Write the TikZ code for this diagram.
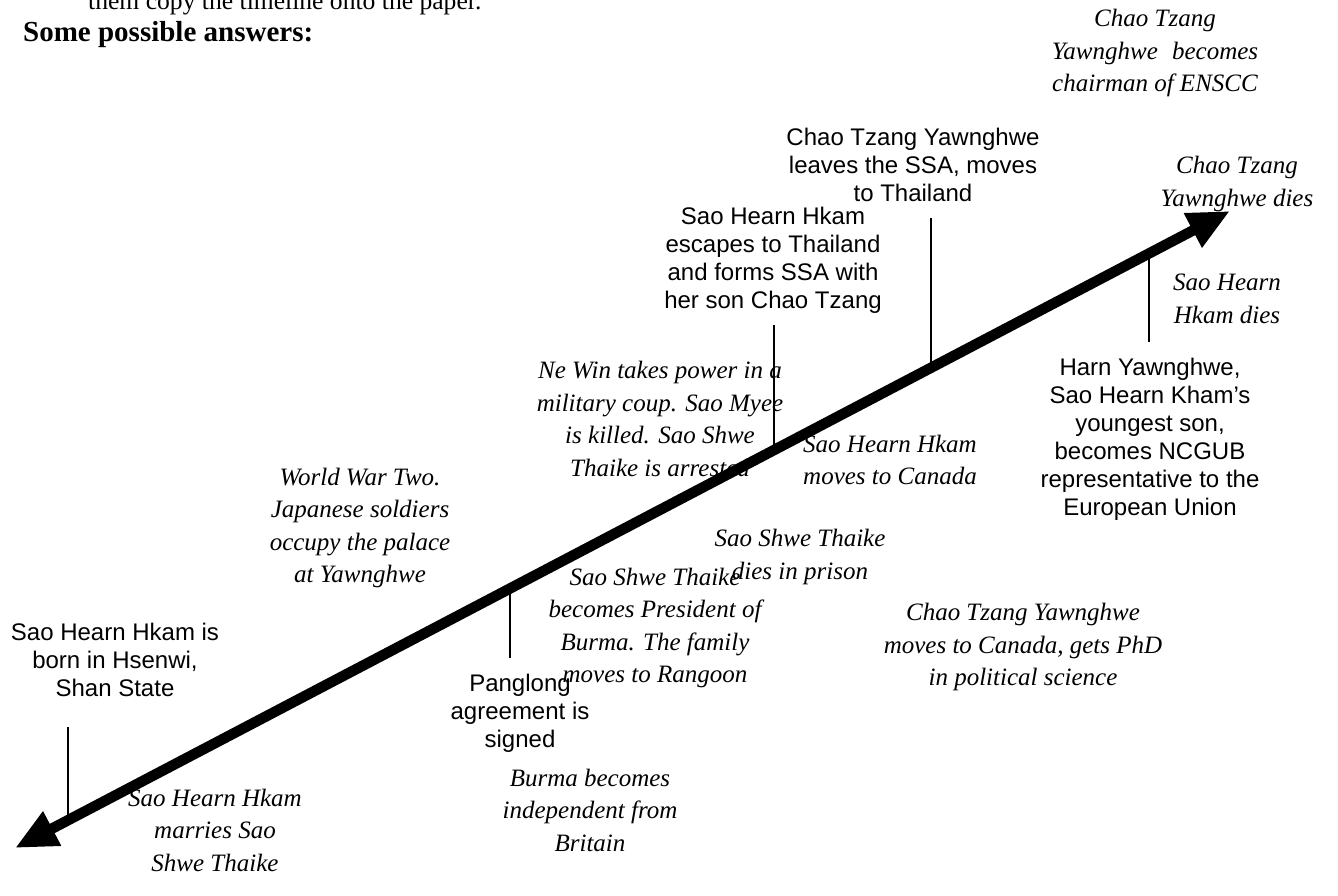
\documentclass[tikz,border=0pt]{standalone}
\usepackage{fontspec}
\setmainfont{Liberation Serif}
\newfontfamily\arialf{Liberation Sans}
\usetikzlibrary{arrows.meta}
\begin{document}
\begin{tikzpicture}[x=1pt,y=-1pt,
  sanslbl/.style={inner sep=0pt, align=center, font=\arialf\fontsize{24}{28}\selectfont},
  itlbl/.style={inner sep=0pt, align=center, font=\fontsize{25}{32.5}\selectfont\itshape},
  tickline/.style={line width=2pt},
  timeline/.style={line width=10.5pt, {Triangle[length=42pt,width=36pt]}-{Triangle[length=42pt,width=36pt]}}]
\useasboundingbox (0,0) rectangle (1338,896);
\clip (0,0) rectangle (1338,896);

% header
\node[anchor=base west, inner sep=0pt, font=\fontsize{25.6}{30}\selectfont] (hdr) at (88,10) {them copy the timeline onto the paper.};
\node[anchor=base west, inner sep=0pt, font=\fontsize{29}{34}\selectfont\bfseries] (title) at (23,42) {Some possible answers:};

% timeline arrow
\coordinate (ll) at (15,848);
\coordinate (ur) at (1230,211);
\draw[timeline] (ll) -- (ur);

% labels
\node[sanslbl] (born) at (115,660) {Sao Hearn Hkam is\\born in Hsenwi,\\Shan State};
\node[itlbl] (marries) at (215,830) {Sao Hearn Hkam\\marries Sao\\Shwe Thaike};
\node[itlbl] (ww2) at (360,528) {World War Two.\\Japanese soldiers\\occupy the palace\\at Yawnghwe};
\node[sanslbl] (panglong) at (520,713) {Panglong\\agreement is\\signed};
\node[itlbl] (indep) at (590,810) {Burma becomes\\independent from\\Britain};
\node[itlbl] (pres) at (655,628) {Sao Shwe Thaike\\becomes President of\\Burma. The family\\moves to Rangoon};
\node[itlbl] (newin) at (660,419) {Ne Win takes power in a\\military coup. Sao Myee\\is killed. Sao Shwe\\Thaike is arrested};
\node[sanslbl] (escapes) at (773,260) {Sao Hearn Hkam\\escapes to Thailand\\and forms SSA with\\her son Chao Tzang};
\node[itlbl] (prison) at (800,557) {Sao Shwe Thaike\\dies in prison};
\node[itlbl] (canada) at (890,460) {Sao Hearn Hkam\\moves to Canada};
\node[sanslbl] (leaves) at (913,165) {Chao Tzang Yawnghwe\\leaves the SSA, moves\\to Thailand};
\node[itlbl] (phd) at (1023,647) {Chao Tzang Yawnghwe\\moves to Canada, gets PhD\\in political science};
\node[itlbl] (enscc) at (1155,53) {Chao Tzang\\Yawnghwe\hspace{8pt} becomes\\chairman of ENSCC};
\node[itlbl] (ctdies) at (1237,184) {Chao Tzang\\Yawnghwe dies};
\node[itlbl] (shdies) at (1227,299) {Sao Hearn\\Hkam dies};
\node[sanslbl] (harn) at (1150,439) {Harn Yawnghwe,\\Sao Hearn Kham’s\\youngest son,\\becomes NCGUB\\representative to the\\European Union};

% ticks
\coordinate (t1a) at (68,727);  \coordinate (t1b) at (68,820);
\coordinate (t2a) at (510,588); \coordinate (t2b) at (510,658);
\coordinate (t3a) at (774,325); \coordinate (t3b) at (774,450);
\coordinate (t4a) at (931,218); \coordinate (t4b) at (931,368);
\coordinate (t5a) at (1149,253); \coordinate (t5b) at (1149,342);
\draw[tickline] (t1a) -- (t1b);
\draw[tickline] (t2a) -- (t2b);
\draw[tickline] (t3a) -- (t3b);
\draw[tickline] (t4a) -- (t4b);
\draw[tickline] (t5a) -- (t5b);
\end{tikzpicture}
\end{document}
